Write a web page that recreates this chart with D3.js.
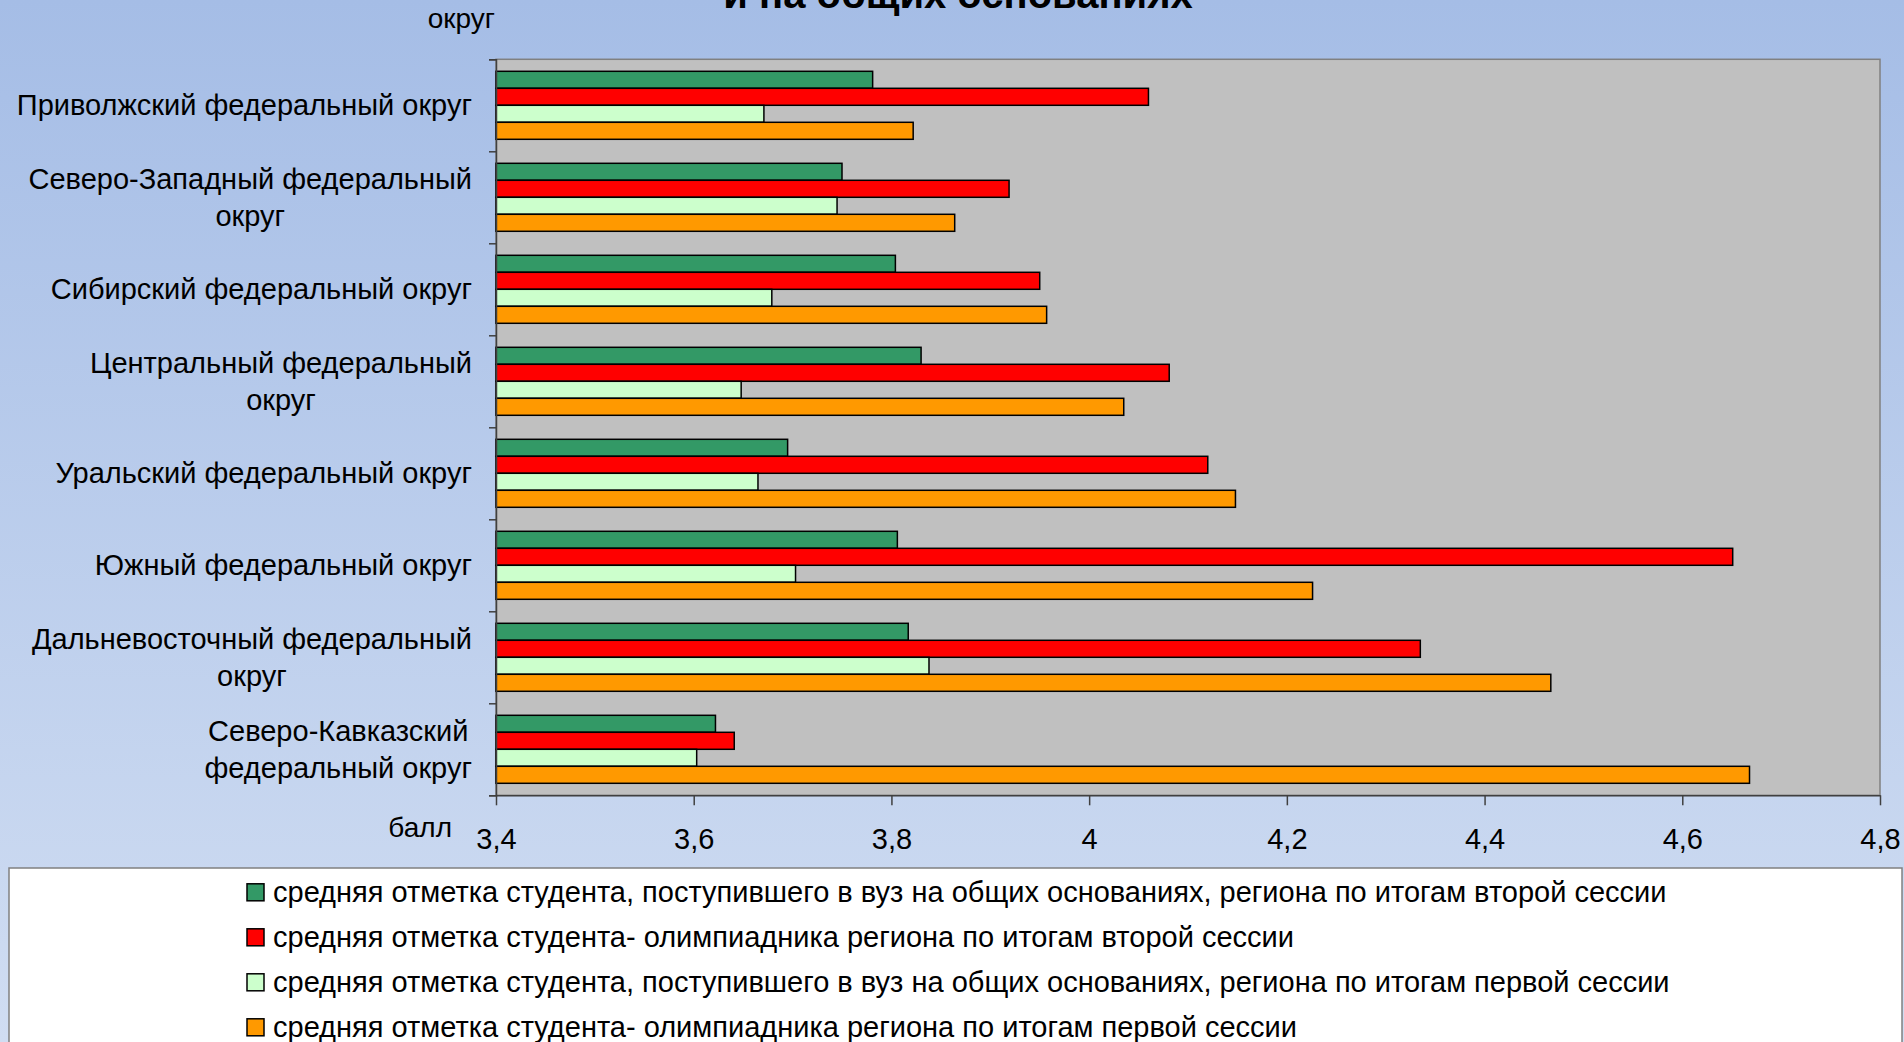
<!DOCTYPE html>
<html><head><meta charset="utf-8">
<script src="https://cdn.jsdelivr.net/npm/d3@7"></script>
<style>
html,body{margin:0;padding:0;overflow:hidden;}
svg{display:block;font-family:"Liberation Sans",Arial,sans-serif;}
</style></head>
<body>
<svg id="c" width="1904" height="1042"></svg>
<script>
const categories = [
  "Приволжский федеральный округ",
  "Северо-Западный федеральный|округ",
  "Сибирский федеральный округ",
  "Центральный федеральный|округ",
  "Уральский федеральный округ",
  "Южный федеральный округ",
  "Дальневосточный федеральный|округ",
  "Северо-Кавказский|федеральный округ"
];
const seriesNames = [
  "средняя отметка студента, поступившего в вуз на общих основаниях, региона по итогам второй сессии",
  "средняя отметка студента- олимпиадника региона по итогам второй сессии",
  "средняя отметка студента, поступившего в вуз на общих основаниях, региона по итогам первой сессии",
  "средняя отметка студента- олимпиадника региона по итогам первой сессии"
];
const seriesColors = ["#339966", "#FF0000", "#CCFFCC", "#FF9900"];
const generalSecond   = [3.781, 3.750, 3.804, 3.830, 3.695, 3.806, 3.817, 3.622];
const olympiadSecond  = [4.060, 3.919, 3.950, 4.081, 4.120, 4.651, 4.335, 3.641];
const generalFirst    = [3.671, 3.745, 3.679, 3.648, 3.665, 3.703, 3.838, 3.603];
const olympiadFirst   = [3.822, 3.864, 3.957, 4.035, 4.148, 4.226, 4.467, 4.668];
const seriesValues = [generalSecond, olympiadSecond, generalFirst, olympiadFirst];
const xTicks = [3.4, 3.6, 3.8, 4.0, 4.2, 4.4, 4.6, 4.8];
const titleText = "и на общих основаниях";
const yAxisTitle = "округ";
const xAxisTitle = "балл";

const svg = d3.select("#c");
const W = 1904, H = 1042;
const defs = svg.append("defs");
const grad = defs.append("linearGradient").attr("id","bg").attr("x1",0).attr("y1",0).attr("x2",0).attr("y2",1);
grad.append("stop").attr("offset","0%").attr("stop-color","#A5BDE6");
grad.append("stop").attr("offset","100%").attr("stop-color","#D0DDF2");
svg.append("rect").attr("width",W).attr("height",H).attr("fill","url(#bg)");

const L = 496, R = 1880, T = 59.3, B = 795.3;
const x = d3.scaleLinear().domain([3.4, 4.8]).range([L, R]);
const y0 = d3.scaleBand().domain(d3.range(categories.length)).range([T, B]).padding(0);
const y1 = d3.scaleBand().domain(d3.range(seriesNames.length)).range([0, y0.bandwidth()]).paddingInner(0).paddingOuter(0.706);

// plot area
svg.append("rect").attr("x",L).attr("y",T).attr("width",R-L).attr("height",B-T)
  .attr("fill","#C0C0C0").attr("stroke","#808080").attr("stroke-width",1.5);

// bars
const g = svg.append("g");
categories.forEach((c, ci) => {
  seriesValues.forEach((vals, si) => {
    g.append("rect")
      .attr("x", x(3.4))
      .attr("y", y0(ci) + y1(si))
      .attr("width", x(vals[ci]) - x(3.4))
      .attr("height", y1.bandwidth())
      .attr("fill", seriesColors[si])
      .attr("stroke", "#000").attr("stroke-width", 1.5);
  });
});

// y axis
const yAxis = d3.axisLeft(d3.scaleLinear().domain([0, categories.length]).range([T, B]))
  .tickValues(d3.range(categories.length + 1)).tickSize(7).tickFormat("");
const ya = svg.append("g").attr("transform",`translate(${L},0)`).call(yAxis);
ya.selectAll("path,line").attr("stroke","#404040").attr("stroke-width",1.5);

// x axis
const xAxis = d3.axisBottom(x).tickValues(xTicks).tickSize(10).tickSizeOuter(0)
  .tickFormat(d => d3.format("")(+d.toFixed(1)).replace(".", ","));
const xa = svg.append("g").attr("transform",`translate(0,${B})`).call(xAxis);
xa.selectAll("path,line").attr("stroke","#404040").attr("stroke-width",1.5);
xa.selectAll("text").attr("font-size",29).attr("fill","#000").attr("y",null).attr("dy",null)
  .attr("transform","translate(0,54)");

// category labels
const labG = svg.append("g").attr("font-size",29).attr("fill","#000");
categories.forEach((c, ci) => {
  const lines = c.split("|");
  const lh = 36.7;
  const cy = y0(ci) + y0.bandwidth()/2;
  const t = labG.append("text").attr("text-anchor","middle");
  const spans = lines.map((ln, li) => t.append("tspan").text(ln)
      .attr("y", cy + (li - (lines.length-1)/2)*lh + 10));
  let maxW = 0;
  spans.forEach(s => { maxW = Math.max(maxW, s.node().getComputedTextLength()); });
  const cx = 472 - maxW/2;
  spans.forEach(s => s.attr("x", cx));
});

// axis titles
svg.append("text").attr("x",495).attr("y",28).attr("text-anchor","end").attr("font-size",28).text(yAxisTitle);
svg.append("text").attr("x",452).attr("y",837).attr("text-anchor","end").attr("font-size",28).text(xAxisTitle);

// title
svg.append("text").attr("x",958).attr("y",7.5).attr("text-anchor","middle")
  .attr("font-size",40).attr("font-weight","bold").text(titleText);

// legend
svg.append("rect").attr("x",9).attr("y",868).attr("width",1893).attr("height",200)
  .attr("fill","#FFFFFF").attr("stroke","#808080").attr("stroke-width",1.5);
const lg = svg.append("g");
seriesNames.forEach((s, i) => {
  const cy = 892.3 + i*45;
  lg.append("rect").attr("x",247).attr("y",cy-8.5).attr("width",17).attr("height",17)
    .attr("fill",seriesColors[i]).attr("stroke","#000").attr("stroke-width",1.5);
  lg.append("text").attr("x",273).attr("y",cy+10).attr("font-size",29).text(s);
});
</script>
</body></html>
